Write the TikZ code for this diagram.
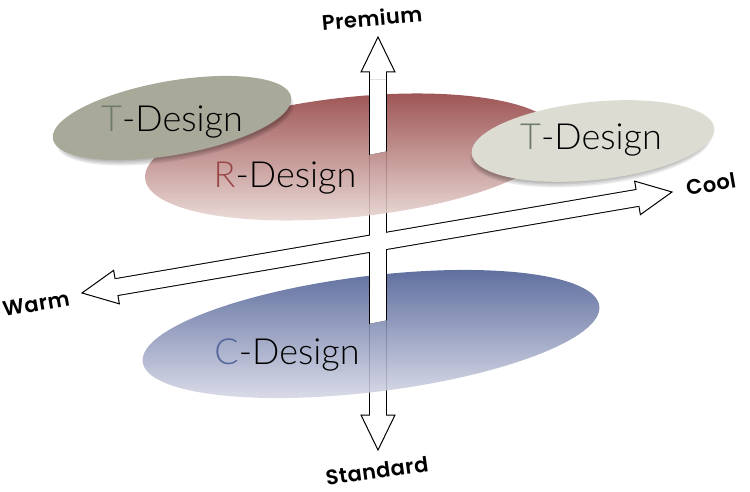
\documentclass[tikz,border=0pt]{standalone}
\usepackage{fontspec}
\setmainfont{Lato}
\newfontfamily\thinfont{Lato}[UprightFont=* Light]
\newfontfamily\axfont{Poppins SemiBold}[LetterSpace=2]
\usepackage{tikz}
\usetikzlibrary{shapes.geometric,positioning,calc}
\definecolor{tgreen}{HTML}{6E7A6A}
\definecolor{rred}{HTML}{9A4646}
\definecolor{cblue}{HTML}{52669C}
\definecolor{redtop}{HTML}{8B3535}
\definecolor{redbot}{HTML}{EDDFDB}
\definecolor{bluetop}{HTML}{40538C}
\definecolor{bluebot}{HTML}{DEDEEA}
\definecolor{tdark}{HTML}{A9A99A}
\definecolor{tlight}{HTML}{DCDCD3}

\begin{document}
\begin{tikzpicture}[x=1pt, y=-1pt,
  shaft/.style={line width=18pt},
  shaftin/.style={line width=16pt, white},
  tiphead/.style={draw, fill=white, line width=1pt, line join=miter},
  axlabel/.style={font=\axfont\fontsize{21}{24}\selectfont},
  dlabel/.style={font=\thinfont\fontsize{36}{40}\selectfont},
  blob/.style={ellipse, inner sep=0pt},
  softshade/.style={blob, fill=black, fill opacity=.08}]
\useasboundingbox (0,0) rectangle (750,492);

\coordinate (pt) at (378,37);
\coordinate (sd) at (378,450);
\coordinate (wm) at (82,293);
\coordinate (cl) at (672,192);
\coordinate (ptb) at ($(pt)!35pt!(sd)$);
\coordinate (sdb) at ($(sd)!35pt!(pt)$);
\coordinate (wmb) at ($(wm)!35pt!(cl)$);
\coordinate (clb) at ($(cl)!35pt!(wm)$);

\draw[shaft] (ptb) -- (sdb);
\draw[shaft] (wmb) -- (clb);
\draw[tiphead] (pt) -- ($(ptb)!17pt!90:(pt)$) -- ($(ptb)!17pt!-90:(pt)$) -- cycle;
\draw[tiphead] (sd) -- ($(sdb)!17pt!90:(sd)$) -- ($(sdb)!17pt!-90:(sd)$) -- cycle;
\draw[tiphead] (wm) -- ($(wmb)!17pt!90:(wm)$) -- ($(wmb)!17pt!-90:(wm)$) -- cycle;
\draw[tiphead] (cl) -- ($(clb)!17pt!90:(cl)$) -- ($(clb)!17pt!-90:(cl)$) -- cycle;
\draw[shaftin] ($(pt)!33pt!(sd)$) -- ($(sd)!33pt!(pt)$);
\draw[shaftin] ($(wm)!33pt!(cl)$) -- ($(cl)!33pt!(wm)$);

\node (rd) [blob, minimum width=416pt, minimum height=120pt, rotate=6,
  top color=redtop, bottom color=redbot, fill opacity=.88] at (352,157) {};
\begin{scope}
\clip (358,80) -- (398,80) -- (398,149) -- (358,157) -- cycle;
\draw[shaft] (ptb) -- (sdb);
\draw[shaftin] ($(pt)!33pt!(sd)$) -- ($(sd)!33pt!(pt)$);
\end{scope}

\foreach \g in {0,3,6,9} {
  \node [softshade, minimum width=232+\g, minimum height=64+\g, rotate=10] at (175,124) {};
  \node [softshade, minimum width=234+\g, minimum height=68+\g, rotate=6] at (591,147) {};
}
\node (tl) [blob, fill=tdark, minimum width=242pt, minimum height=74pt, rotate=10] at (172,118) {};
\node (tr) [blob, fill=tlight, minimum width=244pt, minimum height=78pt, rotate=6] at (593,141) {};

\node (cd) [blob, minimum width=460pt, minimum height=116pt, rotate=7,
  top color=bluetop, bottom color=bluebot, fill opacity=.88] at (371,334) {};
\begin{scope}
\clip (358,258) -- (398,258) -- (398,318) -- (358,326) -- cycle;
\draw[shaft] (ptb) -- (sdb);
\draw[shaftin] ($(pt)!33pt!(sd)$) -- ($(sd)!33pt!(pt)$);
\end{scope}

\node (tltx) [dlabel] at (172,122) {\textcolor{tgreen}{T}-Design};
\node (trtx) [dlabel] at (591,140) {\textcolor{tgreen}{T}-Design};
\node (rdtx) [dlabel] at (285,178) {\textcolor{rred}{R}-Design};
\node (cdtx) [dlabel] at (287,355) {\textcolor{cblue}{C}-Design};

\node (prem) [axlabel, rotate=5] at (372,18) {Premium};
\node (stan) [axlabel, rotate=8] at (377,471) {Standard};
\node (warm) [axlabel, rotate=10] at (36,304) {Warm};
\node (cool) [axlabel, rotate=10] at (711,184) {Cool};
\end{tikzpicture}
\end{document}
